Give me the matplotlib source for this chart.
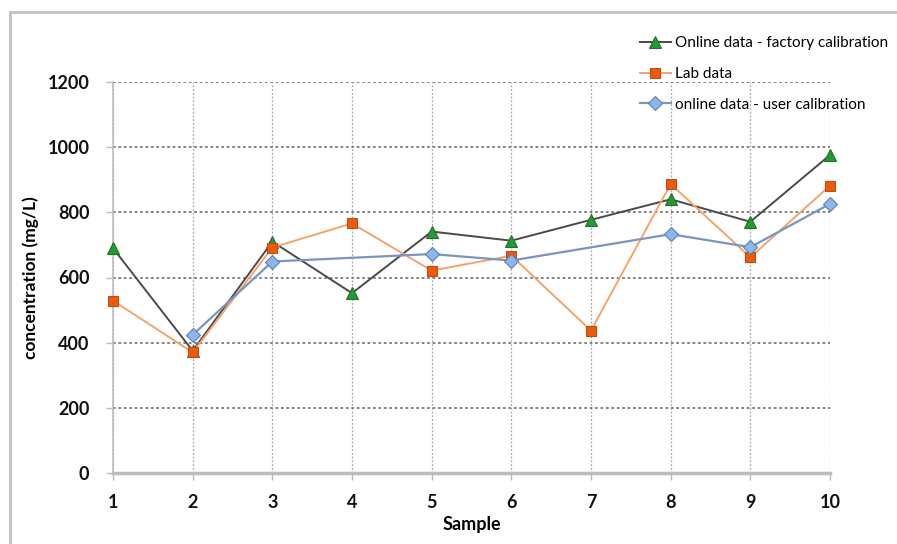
import numpy as np
import matplotlib.pyplot as plt
from matplotlib.patches import Rectangle

# values
samples = [1, 2, 3, 4, 5, 6, 7, 8, 9, 10]
factory = [690, 375, 710, 552, 741, 713, 777, 840, 771, 976]
lab = [529, 370, 692, 766, 621, 667, 437, 887, 662, 882]
user = [np.nan, 424, 649, np.nan, 672, 652, np.nan, 733, 693, 826]

yticks = [0, 200, 400, 600, 800, 1000, 1200]

fnt = ['Lato', 'DejaVu Sans']

fig = plt.figure(figsize=(8.97, 5.44), dpi=100)
ax = fig.add_axes([113/897, 1-473/544, (830-113)/897, (473-82)/544])

# outer frame
fig.patches.append(Rectangle((10/897, -0.02), 1.0, (544-12)/544 + 0.02,
                             transform=fig.transFigure, fill=False,
                             edgecolor='#c4c4c4', lw=2.2))

ax.plot(samples, factory, color='#4a4a4a', lw=1.4, marker='^', ms=9,
        mfc='#1e9e2e', mec='#2b6a2b', mew=0.8, label='Online data - factory calibration',
        zorder=3, clip_on=False)
ax.plot(samples, lab, color='#f4a46a', lw=1.4, marker='s', ms=7.5,
        mfc='#ef5a0a', mec='#b8501c', mew=0.8, label='Lab data', zorder=4, clip_on=False)

# user calibration has gaps, line joins the measured points
ux = [s for s, v in zip(samples, user) if not np.isnan(v)]
uy = [v for v in user if not np.isnan(v)]
ax.plot(ux, uy, color='#7b95be', lw=1.6, marker='D', ms=7,
        mfc='#8fb6ea', mec='#5b7fb5', mew=0.8, label='online data - user calibration',
        zorder=5, clip_on=False)

ax.set_xlim(1, 10)
ax.set_ylim(0, 1200)
ax.set_xticks(samples)
ax.set_yticks(yticks)
ax.set_xticklabels([str(s) for s in samples], fontsize=13, fontweight='bold', family=fnt)
ax.set_yticklabels([str(t) for t in yticks], fontsize=13, fontweight='bold', family=fnt)

ax.yaxis.grid(True, linestyle=(0, (1.5, 1.5)), color='#7a7a7a', lw=1.3)
ax.xaxis.grid(True, linestyle=(0, (1.5, 1.5)), color='#a8a8a8', lw=0.9)
ax.set_axisbelow(True)

for s in ['top', 'right']:
    ax.spines[s].set_visible(False)
ax.spines['left'].set_color('#bdbdbd')
ax.spines['left'].set_linewidth(1.2)
ax.spines['bottom'].set_color('#bdbdbd')
ax.spines['bottom'].set_linewidth(2.5)
ax.tick_params(axis='both', colors='#bdbdbd', labelcolor='#111111', length=5, width=1)
ax.tick_params(axis='x', pad=10)
ax.tick_params(axis='y', pad=12)

ax.set_xlabel('Sample', fontsize=13, fontweight='bold', family=fnt, labelpad=4)
ax.set_ylabel('concentration (mg/L)', fontsize=12.5, fontweight='bold', family=fnt, labelpad=6)

leg = ax.legend(loc='upper left', bbox_to_anchor=(634/897, 1-30/544), bbox_transform=fig.transFigure,
                frameon=False, prop={'family': fnt, 'size': 11}, handlelength=2.0,
                handletextpad=0.3, labelspacing=1.1, borderaxespad=0)

fig.savefig('out.png', dpi=100, facecolor='white')
